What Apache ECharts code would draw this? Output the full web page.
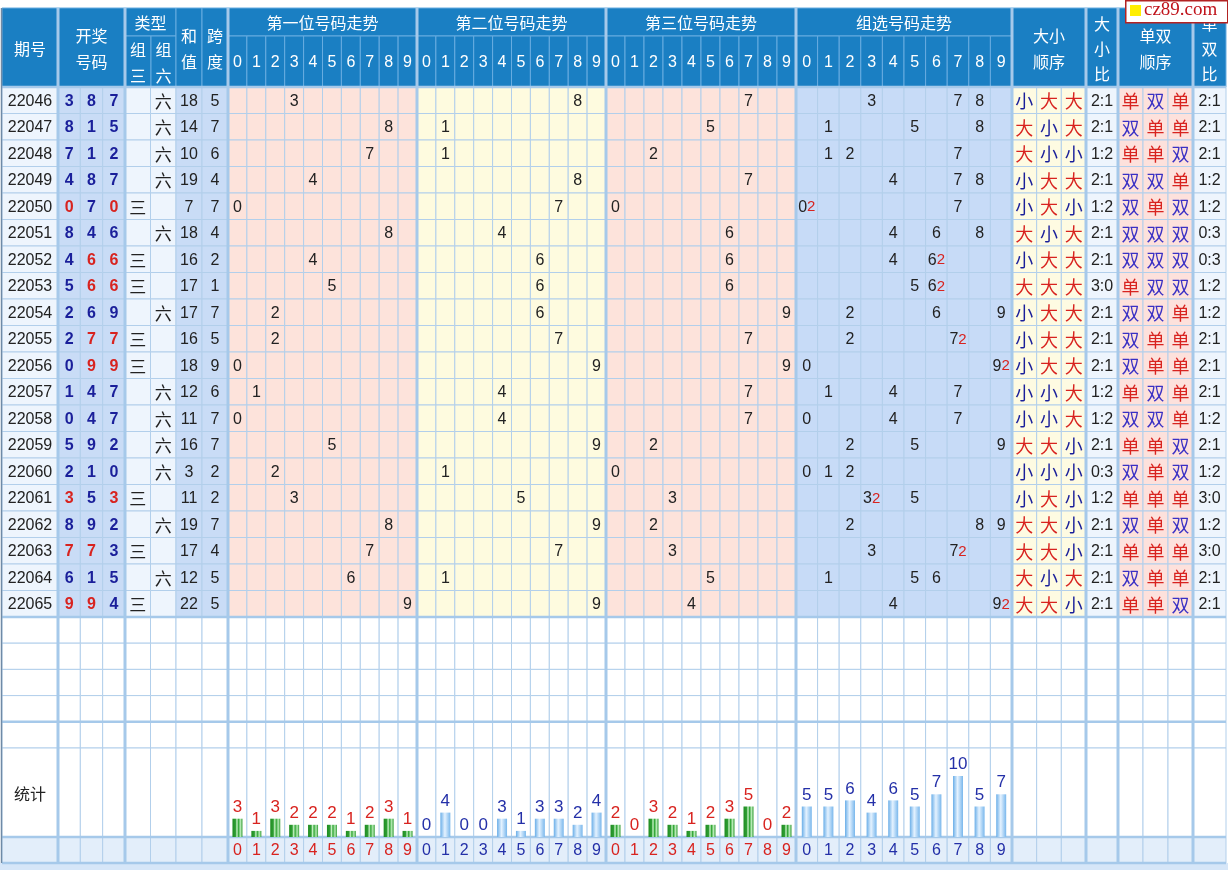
<!DOCTYPE html>
<html>
<head>
<meta charset="utf-8">
<title>3D走势图</title>
<script src="https://cdn.jsdelivr.net/npm/echarts@6/dist/echarts.min.js"></script>
<style>
html, body { margin: 0; padding: 0; background: #fff; }
#main { width: 1228px; height: 870px; }
</style>
</head>
<body>
<div id="main"></div>
<script>
// ---- data ----
var issues = ['22046','22047','22048','22049','22050','22051','22052','22053','22054','22055',
              '22056','22057','22058','22059','22060','22061','22062','22063','22064','22065'];
var draws = [[3,8,7],[8,1,5],[7,1,2],[4,8,7],[0,7,0],[8,4,6],[4,6,6],[5,6,6],[2,6,9],[2,7,7],
             [0,9,9],[1,4,7],[0,4,7],[5,9,2],[2,1,0],[3,5,3],[8,9,2],[7,7,3],[6,1,5],[9,9,4]];
var groupType = ['六','六','六','六','三','六','三','三','六','三','三','六','六','六','六','三','六','三','六','三'];
var sums  = [18,14,10,19,7,18,16,17,17,16,18,12,11,16,3,11,19,17,12,22];
var spans = [5,7,6,4,7,4,2,1,7,5,9,6,7,7,2,2,7,4,5,5];
var sizeOrder = ['小大大','大小大','大小小','小大大','小大小','大小大','小大大','大大大','小大大','小大大',
                 '小大大','小小大','小小大','大大小','小小小','小大小','大大小','大大小','大小大','大大小'];
var sizeRatio = ['2:1','2:1','1:2','2:1','1:2','2:1','2:1','3:0','2:1','2:1',
                 '2:1','1:2','1:2','2:1','0:3','1:2','2:1','2:1','2:1','2:1'];
var parityOrder = ['单双单','双单单','单单双','双双单','双单双','双双双','双双双','单双双','双双单','双单单',
                   '双单单','单双单','双双单','单单双','双单双','单单单','双单双','单单单','双单单','单单双'];
var parityRatio = ['2:1','2:1','2:1','1:2','1:2','0:3','0:3','1:2','1:2','2:1',
                   '2:1','2:1','1:2','2:1','1:2','3:0','1:2','3:0','2:1','2:1'];
var digits = ['0','1','2','3','4','5','6','7','8','9'];
var statPos1  = [3,1,3,2,2,2,1,2,3,1];
var statPos2  = [0,4,0,0,3,1,3,3,2,4];
var statPos3  = [2,0,3,2,1,2,3,5,0,2];
var statGroup = [5,5,6,4,6,5,7,10,5,7];

// ---- layout ----
var HEAD_TOP = 8, HEAD_MID = 36, BODY_TOP = 87, ROW_H = 26.5;
var BLANK_TOP = 617, BLANK_H = 26.2, BLANK_N = 5;
var STAT_TOP = 748, STAT_BOTTOM = 837, FOOT_BOTTOM = 863;
var UNIT_PX = 6.1;

var sections = [
  {id:'issue', x:2,    w:56,  n:1},
  {id:'draw',  x:58,   w:67,  n:3},
  {id:'type',  x:125,  w:51,  n:2},
  {id:'sum',   x:176,  w:26,  n:1},
  {id:'span',  x:202,  w:26,  n:1},
  {id:'p1',    x:228,  w:189, n:10},
  {id:'p2',    x:417,  w:189, n:10},
  {id:'p3',    x:606,  w:190, n:10},
  {id:'grp',   x:796,  w:216, n:10},
  {id:'bs',    x:1012, w:74,  n:3},
  {id:'bsr',   x:1086, w:32,  n:1},
  {id:'oe',    x:1118, w:75,  n:3},
  {id:'oer',   x:1193, w:33,  n:1}
];
function sec(id) { return sections.filter(function (s) { return s.id === id; })[0]; }

var columns = [];
sections.forEach(function (s) {
  for (var i = 0; i < s.n; i++) {
    columns.push({sec: s.id, idx: i, x0: s.x + s.w * i / s.n, x1: s.x + s.w * (i + 1) / s.n});
  }
});

var NUM = '"Liberation Sans", Arial, sans-serif';
var CJK = '"Noto Sans CJK SC", "Microsoft YaHei", sans-serif';
var RED = '#d8231f', NAVY = '#1a1f9a', INK = '#222';
var HEAD_BG = '#1a7fc3', HEAD_LINE = '#67ace0', GRID_LINE = '#b2cfeb';

var bodyFill = {issue:'#eef5fd', draw:'#c9dcf6', type:'#eef5fd', sum:'#c9dcf6', span:'#c9dcf6',
  p1:'#fde3db', p2:'#fefbdf', p3:'#fde3db', grp:'#c7dbf7', bs:'#fefbe2', bsr:'#eef5fd',
  oe:'#fde1dc', oer:'#eef5fd'};

var cells = [];
function addCell(x0, y0, x1, y1, fill, stroke, text, color, font, extra) {
  var c = {x0:x0, y0:y0, x1:x1, y1:y1, fill:fill, stroke:stroke, text:text, color:color, font:font};
  if (extra) for (var k in extra) c[k] = extra[k];
  cells.push(c);
}

// header
function head(x0, y0, x1, y1, text, lh) {
  addCell(x0, y0, x1, y1, HEAD_BG, HEAD_LINE, text, '#fff', '16px ' + CJK, {lineHeight: lh || 26});
}
head(2, HEAD_TOP, 58, BODY_TOP, '期号');
head(58, HEAD_TOP, 125, BODY_TOP, '开奖\n号码');
head(125, HEAD_TOP, 176, HEAD_MID, '类型');
head(125, HEAD_MID, 151, BODY_TOP, '组\n三');
head(151, HEAD_MID, 176, BODY_TOP, '组\n六');
head(176, HEAD_TOP, 202, BODY_TOP, '和\n值');
head(202, HEAD_TOP, 228, BODY_TOP, '跨\n度');
var trendTitles = {p1:'第一位号码走势', p2:'第二位号码走势', p3:'第三位号码走势', grp:'组选号码走势'};
['p1','p2','p3','grp'].forEach(function (id) {
  var s = sec(id);
  head(s.x, HEAD_TOP, s.x + s.w, HEAD_MID, trendTitles[id]);
});
columns.forEach(function (c) {
  if (trendTitles[c.sec]) {
    addCell(c.x0, HEAD_MID, c.x1, BODY_TOP, HEAD_BG, HEAD_LINE, digits[c.idx], '#fff', '16px ' + NUM);
  }
});
head(1012, HEAD_TOP, 1086, BODY_TOP, '大小\n顺序');
head(1086, HEAD_TOP, 1118, BODY_TOP, '大\n小\n比', 25);
head(1118, HEAD_TOP, 1193, BODY_TOP, '单双\n顺序');
head(1193, HEAD_TOP, 1226, BODY_TOP, '单\n双\n比', 25);

// body rows
function countOf(arr, v) { return arr.filter(function (d) { return d === v; }).length; }
var posIndex = {p1:0, p2:1, p3:2};
issues.forEach(function (iss, r) {
  var y0 = BODY_TOP + r * ROW_H, y1 = y0 + ROW_H;
  var dr = draws[r];
  columns.forEach(function (c) {
    var text = '', color = INK, font = '16px ' + NUM, extra = null;
    if (c.sec === 'issue') text = iss;
    else if (c.sec === 'draw') {
      var d = dr[c.idx];
      text = d; color = countOf(dr, d) > 1 ? RED : NAVY; font = 'bold 16px ' + NUM;
    } else if (c.sec === 'type') {
      text = (c.idx === 0 && groupType[r] === '三') ? '三' : (c.idx === 1 && groupType[r] === '六') ? '六' : '';
      font = '17px ' + CJK;
    } else if (c.sec === 'sum') text = sums[r];
    else if (c.sec === 'span') text = spans[r];
    else if (posIndex[c.sec] !== undefined) text = dr[posIndex[c.sec]] === c.idx ? c.idx : '';
    else if (c.sec === 'grp') {
      var n = countOf(dr, c.idx);
      if (n === 1) text = c.idx;
      if (n === 2) {
        text = '{n|' + c.idx + '}{s|2}';
        extra = {rich: {n: {fill: INK, fontSize: 16, fontFamily: NUM}, s: {fill: RED, fontSize: 15, fontFamily: NUM}}};
      }
    } else if (c.sec === 'bs') {
      text = sizeOrder[r].charAt(c.idx); color = text === '大' ? RED : NAVY; font = '18px ' + CJK;
    } else if (c.sec === 'bsr') text = sizeRatio[r];
    else if (c.sec === 'oe') {
      text = parityOrder[r].charAt(c.idx); color = text === '单' ? RED : '#3a30c4'; font = '18px ' + CJK;
    } else if (c.sec === 'oer') text = parityRatio[r];
    addCell(c.x0, y0, c.x1, y1, bodyFill[c.sec], GRID_LINE, text, color, font, extra);
  });
});

// blank rows
for (var b = 0; b < BLANK_N; b++) {
  columns.forEach(function (c) {
    addCell(c.x0, BLANK_TOP + b * BLANK_H, c.x1, BLANK_TOP + (b + 1) * BLANK_H, '#fff', GRID_LINE, '', INK, '16px ' + NUM);
  });
}
// stats row + digit foot row
var footColor = {p1: RED, p2: '#2430a8', p3: RED, grp: '#2430a8'};
columns.forEach(function (c) {
  addCell(c.x0, STAT_TOP, c.x1, STAT_BOTTOM, '#fff', GRID_LINE, c.sec === 'issue' ? '统计' : '', INK, '16px ' + CJK);
  addCell(c.x0, STAT_BOTTOM, c.x1, FOOT_BOTTOM, '#e3eefa', GRID_LINE,
    footColor[c.sec] ? digits[c.idx] : '', footColor[c.sec] || INK, '16px ' + NUM);
});
addCell(0, FOOT_BOTTOM, 1228, 870, '#d6e6f8', null, '', INK, '16px ' + NUM);

// thicker section dividers
var dividers = [];
[58, 125, 228, 417, 606, 796, 1012, 1086, 1118, 1193].forEach(function (x) {
  dividers.push({x0: x, y0: HEAD_TOP, x1: x, y1: FOOT_BOTTOM, w: 3, color: '#a6c9ea'});
});
[BODY_TOP, BLANK_TOP, BLANK_TOP + 4 * BLANK_H, STAT_BOTTOM, FOOT_BOTTOM].forEach(function (y) {
  dividers.push({x0: 2, y0: y, x1: 1226, y1: y, w: 2.5, color: '#a6c9ea'});
});
dividers.push({x0: 1.5, y0: HEAD_TOP, x1: 1.5, y1: FOOT_BOTTOM, w: 1.5, color: '#6f8aa6'});

function renderCell(params, api) {
  var c = cells[params.dataIndex];
  var a = api.coord([api.value(0), api.value(1)]);
  var e = api.coord([api.value(2), api.value(3)]);
  var kids = [{
    type: 'rect',
    shape: {x: a[0], y: a[1], width: e[0] - a[0], height: e[1] - a[1]},
    style: {fill: c.fill, stroke: c.stroke, lineWidth: c.stroke ? 1 : 0}
  }];
  if (c.text !== '' && c.text != null) {
    var st = {text: String(c.text), fill: c.color, font: c.font, align: 'center', verticalAlign: 'middle'};
    if (c.lineHeight) st.lineHeight = c.lineHeight;
    if (c.rich) st.rich = c.rich;
    kids.push({type: 'text', x: (a[0] + e[0]) / 2, y: (a[1] + e[1]) / 2 + 1, style: st});
  }
  return {type: 'group', children: kids};
}
function renderDivider(params, api) {
  var d = dividers[params.dataIndex];
  var a = api.coord([api.value(0), api.value(1)]);
  var e = api.coord([api.value(2), api.value(3)]);
  return {type: 'line', shape: {x1: a[0], y1: a[1], x2: e[0], y2: e[1]}, style: {stroke: d.color, lineWidth: d.w}};
}

// ---- stats bar grids ----
var statSets = [
  {sec: 'p1', data: statPos1, kind: 'green', label: RED},
  {sec: 'p2', data: statPos2, kind: 'blue', label: '#2430a8'},
  {sec: 'p3', data: statPos3, kind: 'green', label: RED},
  {sec: 'grp', data: statGroup, kind: 'blue', label: '#2430a8'}
];
var greenFill = {type: 'linear', x: 0, y: 0, x2: 1, y2: 0, colorStops: [
  {offset: 0, color: '#1f8c22'}, {offset: 0.3, color: '#2f9e33'}, {offset: 0.45, color: '#c7f1c5'},
  {offset: 0.6, color: '#36a83a'}, {offset: 0.8, color: '#b5eab4'}, {offset: 1, color: '#2e9a30'}]};
var blueFill = {type: 'linear', x: 0, y: 0, x2: 1, y2: 0, colorStops: [
  {offset: 0, color: '#6aaee8'}, {offset: 0.45, color: '#e4f2ff'}, {offset: 1, color: '#79b7ec'}]};

var grids = [{left: 0, top: 0, width: 1228, height: 870}];
var xAxes = [{type: 'value', min: 0, max: 1228, show: false, gridIndex: 0}];
var yAxes = [{type: 'value', min: 0, max: 870, inverse: true, show: false, gridIndex: 0}];
var series = [
  {type: 'custom', xAxisIndex: 0, yAxisIndex: 0, z: 1, silent: true, clip: false,
   renderItem: renderCell, data: cells.map(function (c) { return [c.x0, c.y0, c.x1, c.y1]; })},
  {type: 'custom', xAxisIndex: 0, yAxisIndex: 0, z: 2, silent: true, clip: false,
   renderItem: renderDivider, data: dividers.map(function (d) { return [d.x0, d.y0, d.x1, d.y1]; })}
];
statSets.forEach(function (set, i) {
  var s = sec(set.sec);
  grids.push({left: s.x, width: s.w, top: STAT_TOP, height: STAT_BOTTOM - STAT_TOP});
  xAxes.push({type: 'category', data: digits, show: false, gridIndex: i + 1});
  yAxes.push({type: 'value', min: 0, max: (STAT_BOTTOM - STAT_TOP) / UNIT_PX, show: false, gridIndex: i + 1});
  series.push({
    type: 'bar', xAxisIndex: i + 1, yAxisIndex: i + 1, z: 3, barWidth: 10, silent: true,
    data: set.data,
    itemStyle: {color: set.kind === 'green' ? greenFill : blueFill},
    label: {show: true, position: 'top', distance: 3, color: set.label, fontSize: 17, fontFamily: NUM}
  });
});

var chart = echarts.init(document.getElementById('main'));
chart.setOption({
  animation: false,
  backgroundColor: '#fff',
  grid: grids,
  xAxis: xAxes,
  yAxis: yAxes,
  series: series,
  graphic: [
    {type: 'rect', left: 1125, top: 0, z: 10, shape: {width: 102, height: 22},
     style: {fill: '#fff', stroke: '#b22222', lineWidth: 1.5}},
    {type: 'rect', left: 1130, top: 5, z: 11, shape: {width: 11, height: 11}, style: {fill: '#ffee00'}},
    {type: 'text', left: 1144, top: 1, z: 11,
     style: {text: 'cz89.com', fill: '#c0131b', font: '19px "Liberation Serif", "DejaVu Serif", serif'}}
  ]
});
</script>
</body>
</html>
